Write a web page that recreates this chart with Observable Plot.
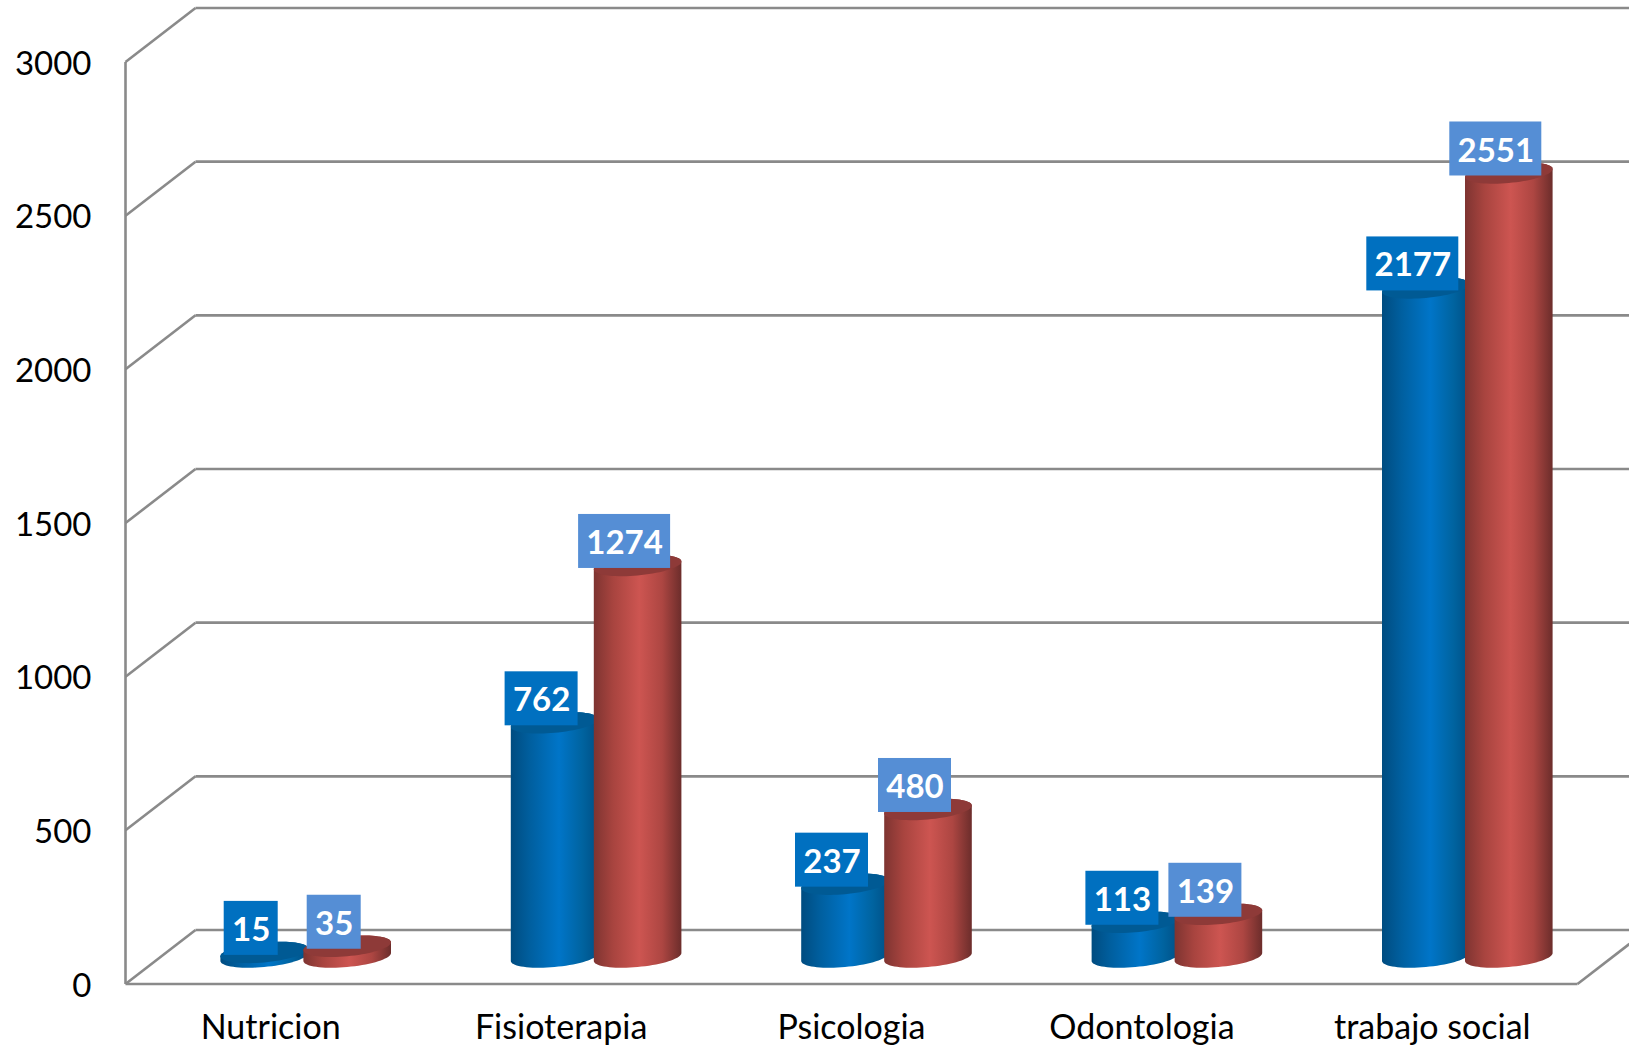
<!DOCTYPE html>
<html>
<head>
<meta charset="utf-8">
<style>html,body{margin:0;padding:0;background:#fff;overflow:hidden}</style>
<script src="https://cdn.jsdelivr.net/npm/d3@7"></script>
<script src="https://cdn.jsdelivr.net/npm/@observablehq/plot@0.6"></script>
</head>
<body>
<div id="chart"></div>
<script>
const categories = ["Nutricion", "Fisioterapia", "Psicologia", "Odontologia", "trabajo social"];
const blueValues = [15, 762, 237, 113, 2177];
const redValues = [35, 1274, 480, 139, 2551];
const yTicks = [0, 500, 1000, 1500, 2000, 2500, 3000];

// scale geometry (pixels per data unit), used to express pseudo-3D offsets in data units
const W = 1629, H = 1049;
const xRange = [160, 1612], yRange = [956.5, 34.5];
const ux = (xRange[1] - xRange[0]) / 5, uy = (yRange[0] - yRange[1]) / 3000;
const px = p => p / ux, py = p => p / uy;
const depthX = px(35), depthY = py(27);
const xd = (v, d) => v + d * depthX;
const yd = (v, d) => v + d * depthY;
const rightEdge = (W - xRange[0]) / ux;

const shape = (values, side) => values.map((v, i) => ({cat: categories[i], v, c: i + 0.5 + side * px(41.5)}));
const blue = shape(blueValues, -1), red = shape(redValues, 1);

const RX = 43.8, RY = 10, TILT = 0.09, N = 36;
const ell = (c, v, t) => ({
  x: c + px(RX * Math.cos(t)),
  y: v - py(RY * Math.sin(t) - RX * Math.cos(t) * TILT)
});
function body(d) {
  const pts = [];
  for (let k = 0; k <= N; k++) pts.push({...ell(d.c, 0, Math.PI - Math.PI * k / N), k: d.cat});
  for (let k = 0; k <= N; k++) pts.push({...ell(d.c, d.v, -Math.PI * k / N), k: d.cat});
  return pts;
}
function cap(d) {
  const pts = [];
  for (let k = 0; k <= 2 * N; k++) pts.push({...ell(d.c, d.v, Math.PI * k / N), k: d.cat});
  return pts;
}
const labelRect = (d) => {
  const w = {2: 54, 3: 73, 4: 92}[String(d.v).length];
  const cx = d.c - px(13), cy = d.v + py(24);
  return {x1: cx - px(w / 2), x2: cx + px(w / 2), y1: cy - py(27), y2: cy + py(27), cx, cy, cyText: cy - py(2), t: String(d.v)};
};
const blueLabels = blue.map(labelRect), redLabels = red.map(labelRect);

const gridColor = "#8a8a8a", gridWidth = 2.6;

function gradient(id, stops) {
  const g = d3.create("svg:linearGradient").attr("id", id).attr("x1", 0).attr("x2", 1).attr("y1", 0).attr("y2", 0);
  stops.forEach(([o, c]) => g.append("stop").attr("offset", o).attr("stop-color", c));
  return g.node();
}
const defs = () => {
  const d = d3.create("svg:defs");
  d.append(() => gradient("gBlue", [[0, "#004c80"], [0.22, "#005f9f"], [0.55, "#0075c8"], [0.82, "#00639f"], [1, "#004f85"]]));
  d.append(() => gradient("gRed", [[0, "#7e3431"], [0.22, "#a8443f"], [0.52, "#cd5551"], [0.78, "#ad4642"], [1, "#6c2d2b"]]));
  return d.node();
};

const barMarks = (rows, grad, capColor) => [
  Plot.line(rows.flatMap(body), {x: "x", y: "y", z: "k", fill: `url(#${grad})`, stroke: "none"}),
  Plot.line(rows.flatMap(cap), {x: "x", y: "y", z: "k", fill: capColor, stroke: "none"})
];
const labelMarks = (rows, color) => [
  Plot.rect(rows, {x1: "x1", x2: "x2", y1: "y1", y2: "y2", fill: color}),
  Plot.text(rows, {x: "cx", y: "cyText", text: "t", fill: "white", fontWeight: "bold", fontSize: 33})
];

const plot = Plot.plot({
  width: W, height: H,
  marginLeft: 0, marginRight: 0, marginTop: 0, marginBottom: 0,
  style: {fontFamily: "Lato, sans-serif", background: "white", overflow: "hidden"},
  x: {type: "linear", domain: [0, 5], range: xRange},
  y: {type: "linear", domain: [0, 3000], range: yRange},
  marks: [
    defs,
    // back wall grid lines
    Plot.link(yTicks, {x1: xd(0, 1), x2: rightEdge, y1: d => yd(d, 1), y2: d => yd(d, 1), stroke: gridColor, strokeWidth: gridWidth}),
    // left wall diagonals
    Plot.link(yTicks, {x1: xd(0, -1), x2: xd(0, 1), y1: d => yd(d, -1), y2: d => yd(d, 1), stroke: gridColor, strokeWidth: gridWidth}),
    // left wall front edge
    Plot.link([0], {x1: xd(0, -1), x2: xd(0, -1), y1: yd(0, -1), y2: yd(3000, -1), stroke: gridColor, strokeWidth: gridWidth}),
    // floor front edge and right diagonal
    Plot.link([0], {x1: xd(0, -1), x2: xd(5, -1), y1: yd(0, -1), y2: yd(0, -1), stroke: gridColor, strokeWidth: gridWidth}),
    Plot.link([0], {x1: xd(5, -1), x2: rightEdge, y1: yd(0, -1), y2: yd(0, -1 + 2 * (52 / 70)), stroke: gridColor, strokeWidth: gridWidth}),
    ...barMarks(blue, "gBlue", "#005a94"),
    ...barMarks(red, "gRed", "#8e3a38"),
    ...labelMarks(blueLabels, "#0070c0"),
    ...labelMarks(redLabels, "#558ed5"),
    Plot.axisY(yTicks, {anchor: "left", tickSize: 0, tickPadding: 0, dx: 91, dy: 29, fontSize: 33, label: null, fill: "black", tickFormat: d => String(d)}),
    Plot.axisX(categories.map((_, i) => i + 0.5), {anchor: "bottom", tickSize: 0, tickPadding: 0, dx: -35, dy: -21, fontSize: 34, label: null, fill: "black", lineAnchor: "middle", tickFormat: d => categories[d - 0.5]})
  ]
});
document.getElementById("chart").appendChild(plot);
</script>
</body>
</html>
